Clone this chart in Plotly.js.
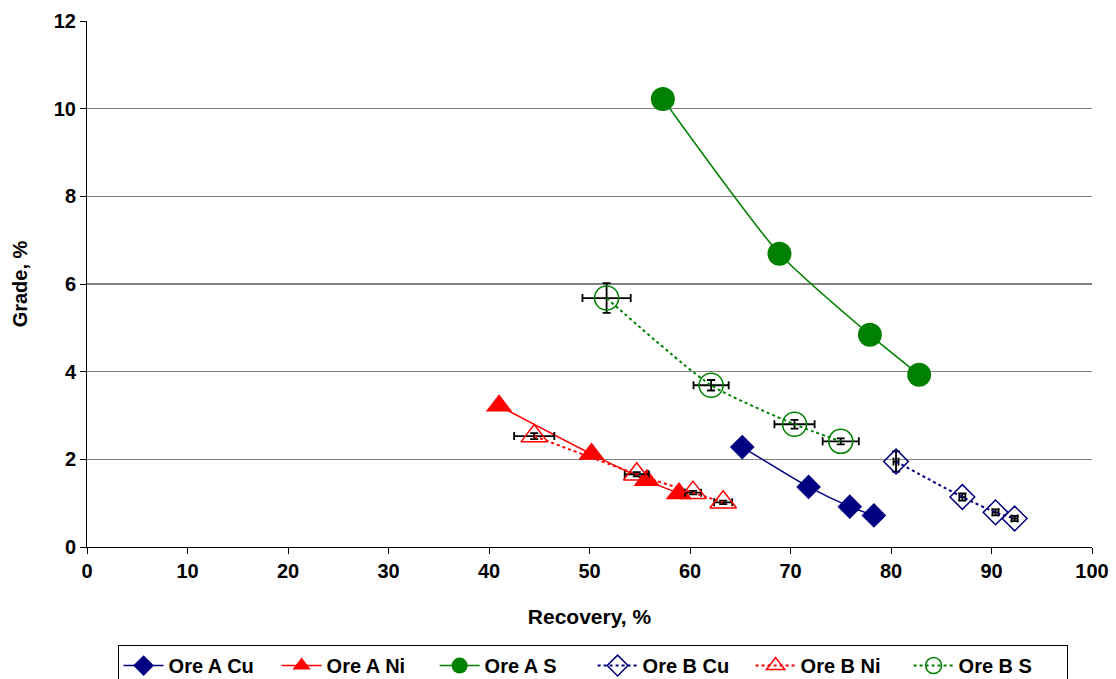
<!DOCTYPE html>
<html>
<head>
<meta charset="utf-8">
<script src="https://cdn.plot.ly/plotly-3.0.1.min.js"></script>
<style>html,body{margin:0;padding:0;background:#fff;}#chart{width:1116px;height:679px;}</style>
</head>
<body>
<div id="chart"></div>
<script>
// Ore A (filled markers, solid lines)
const oreACuRec = [65.2, 71.8, 75.9, 78.3];
const oreACuGrade = [2.28, 1.37, 0.92, 0.72];
const oreANiRec = [41.0, 50.2, 55.7, 58.9];
const oreANiGrade = [3.22, 2.12, 1.52, 1.22];
const oreASRec = [57.3, 68.9, 77.9, 82.8];
const oreASGrade = [10.22, 6.69, 4.84, 3.93];

// Ore B (open markers, dotted lines, with error bars)
const oreBCuRec = [80.5, 87.1, 90.4, 92.3];
const oreBCuGrade = [1.95, 1.14, 0.79, 0.65];
const oreBCuRecErr = [0.25, 0.3, 0.3, 0.3];
const oreBCuGradeErr = [0.23, 0.08, 0.07, 0.06];

const oreBNiRec = [44.5, 54.7, 60.3, 63.3];
const oreBNiGrade = [2.53, 1.66, 1.24, 1.02];
const oreBNiRecErr = [2.0, 1.2, 0.8, 0.9];
const oreBNiGradeErr = [0.07, 0.05, 0.04, 0.04];

const oreBSRec = [51.7, 62.1, 70.4, 75.0];
const oreBSGrade = [5.68, 3.69, 2.80, 2.41];
const oreBSRecErr = [2.4, 1.75, 2.0, 1.8];
const oreBSGradeErr = [0.34, 0.12, 0.1, 0.07];

const names = ['Ore A Cu', 'Ore A Ni', 'Ore A S', 'Ore B Cu', 'Ore B Ni', 'Ore B S'];

const navy = '#000080', red = '#FF0000', green = '#008000';

function errBar(arr) {
  return {type: 'data', array: arr, visible: true, color: '#000000', thickness: 1.8, width: 4};
}

const traces = [
  {x: oreACuRec, y: oreACuGrade, name: names[0], mode: 'lines+markers',
   line: {color: navy, width: 1.5, shape: 'spline', smoothing: 0.6},
   marker: {symbol: 'diamond', size: 19, color: navy}},
  {x: oreANiRec, y: oreANiGrade, name: names[1], mode: 'lines+markers',
   line: {color: red, width: 1.5, shape: 'spline', smoothing: 0.6},
   marker: {symbol: 'triangle-up', size: 23, color: red}},
  {x: oreASRec, y: oreASGrade, name: names[2], mode: 'lines+markers',
   line: {color: green, width: 1.5, shape: 'spline', smoothing: 0.6},
   marker: {symbol: 'circle', size: 24, color: green}},
  {x: oreBCuRec, y: oreBCuGrade, name: names[3], mode: 'lines+markers',
   line: {color: navy, width: 2, dash: 'dot', shape: 'spline', smoothing: 0.6},
   marker: {symbol: 'diamond-open', size: 19, color: navy, line: {width: 1.5}},
   error_x: errBar(oreBCuRecErr), error_y: errBar(oreBCuGradeErr)},
  {x: oreBNiRec, y: oreBNiGrade, name: names[4], mode: 'lines+markers',
   line: {color: red, width: 2, dash: 'dot', shape: 'spline', smoothing: 0.6},
   marker: {symbol: 'triangle-up-open', size: 23, color: red, line: {width: 1.5}},
   error_x: errBar(oreBNiRecErr), error_y: errBar(oreBNiGradeErr)},
  {x: oreBSRec, y: oreBSGrade, name: names[5], mode: 'lines+markers',
   line: {color: green, width: 2, dash: 'dot', shape: 'spline', smoothing: 0.6},
   marker: {symbol: 'circle-open', size: 24, color: green, line: {width: 1.5}},
   error_x: errBar(oreBSRecErr), error_y: errBar(oreBSGradeErr)}
];

const fontFam = 'Liberation Sans, Arial, sans-serif';

const layout = {
  width: 1116, height: 679,
  margin: {l: 87, r: 24, t: 21, b: 132, autoexpand: false},
  paper_bgcolor: '#ffffff', plot_bgcolor: '#ffffff',
  font: {family: fontFam, color: '#000000'},
  showlegend: true,
  legend: {
    orientation: 'h', xref: 'container', x: 0.531, xanchor: 'center',
    yref: 'container', y: 0.05, yanchor: 'top',
    bordercolor: '#000000', borderwidth: 1,
    font: {family: fontFam, size: 20, weight: 'bold', color: '#000000'},
    itemwidth: 40, tracegroupgap: 0,
    entrywidth: 103, entrywidthmode: 'pixels'
  },
  xaxis: {
    range: [0, 100], dtick: 10, tick0: 0,
    showgrid: false, zeroline: false,
    showline: true, linecolor: '#000000', linewidth: 1,
    ticks: 'outside', ticklen: 6, tickcolor: '#000000',
    tickfont: {family: fontFam, size: 20, weight: 'bold'},
    title: {text: 'Recovery, %', font: {family: fontFam, size: 21, weight: 'bold'}, standoff: 28}
  },
  yaxis: {
    range: [0, 12], dtick: 2, tick0: 0,
    showgrid: true, gridcolor: '#808080', gridwidth: 1,
    zeroline: false,
    showline: true, linecolor: '#000000', linewidth: 1,
    ticks: 'outside', ticklen: 6, tickcolor: '#000000',
    tickfont: {family: fontFam, size: 20, weight: 'bold'},
    title: {text: 'Grade, %', font: {family: fontFam, size: 20, weight: 'bold'}, standoff: 20}
  },
  shapes: [
    {type: 'line', xref: 'paper', x0: 0, x1: 1, yref: 'y', y0: 6, y1: 6,
     line: {color: '#000000', width: 1}, layer: 'below'}
  ]
};

Plotly.newPlot('chart', traces, layout, {displayModeBar: false, staticPlot: true});
</script>
</body>
</html>
